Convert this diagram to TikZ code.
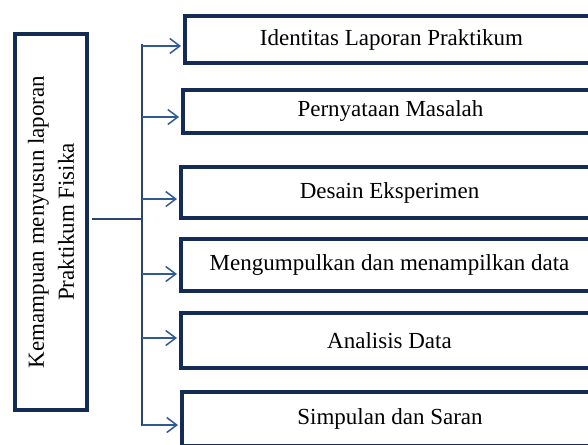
\documentclass[tikz,border=0pt]{standalone}
\usepackage{fontspec}
\setmainfont{Liberation Serif}
\usetikzlibrary{arrows.meta}
\definecolor{navy}{HTML}{142B55}
\definecolor{linkblue}{HTML}{2F5A96}
\definecolor{trunkc}{HTML}{2A4670}
\begin{document}
\begin{tikzpicture}[x=1pt,y=-1pt,
  box/.style={draw=navy,line width=4pt,fill=white,inner sep=0pt,
    font=\fontsize{23}{30}\selectfont,anchor=center},
  link/.style={draw=linkblue,line width=1.5pt,shorten >=2pt,
    -{Straight Barb[length=10pt,width=15pt,line width=1.5pt]}},
  stem/.style={draw=trunkc,line width=1.5pt}]
\useasboundingbox (0,0) rectangle (588,444);
\clip (0,0) rectangle (588,444);
\fill[white] (0,0) rectangle (588,444);
% left box
\node[box,rotate=90,minimum width=376pt,minimum height=72pt,align=center]
  (main) at (51,222) {Kemampuan menyusun laporan\\Praktikum Fisika};
% right boxes
\node[box,minimum width=413pt,minimum height=47pt] (b1) at (391.5,39.5) {Identitas Laporan Praktikum};
\node[box,minimum width=415pt,minimum height=43pt] (b2) at (390.5,111.5) {Pernyataan Masalah};
\node[box,minimum width=417pt,minimum height=51pt] (b3) at (389.5,192.5) {Desain Eksperimen};
\node[box,minimum width=417pt,minimum height=52pt] (b4) at (389.5,265) {Mengumpulkan dan menampilkan data};
\node[box,minimum width=417pt,minimum height=55pt] (b5) at (389.5,340.5) {Analisis Data};
\node[box,minimum width=416pt,minimum height=54pt] (b6) at (390,419) {Simpulan dan Saran};
% trunk
\coordinate (tTop) at (142,44);
\coordinate (tBot) at (142,425.7);
\coordinate (s) at (92,219);
\draw[stem] (s) -- (s -| tTop);
\draw[stem] (tTop) -- (tBot);
% arrow origins
\coordinate (a1) at (142,46);
\coordinate (a2) at (142,117);
\coordinate (a3) at (142,199);
\coordinate (a4) at (142,274);
\coordinate (a5) at (142,338);
\coordinate (a6) at (142,425);
\draw[link] (a1) -- (a1 -| b1.west);
\draw[link] (a2) -- (a2 -| b2.west);
\draw[link] (a3) -- (a3 -| b3.west);
\draw[link] (a4) -- (a4 -| b4.west);
\draw[link] (a5) -- (a5 -| b5.west);
\draw[link] (a6) -- (a6 -| b6.west);
\end{tikzpicture}
\end{document}
